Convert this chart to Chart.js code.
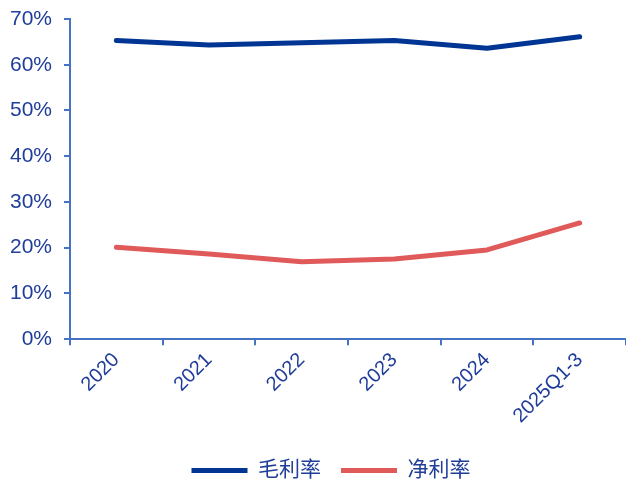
<!DOCTYPE html>
<html>
<head>
<meta charset="utf-8">
<script src="https://cdn.jsdelivr.net/npm/chart.js@4/dist/chart.umd.min.js"></script>
<style>
  body { margin: 0; background: #fff; }
  #wrap { width: 626px; height: 483px; }
</style>
</head>
<body>
<div id="wrap"><canvas id="marginChart" width="626" height="483"></canvas></div>
<script>
// margins by period, in percent
const periods = ['2020', '2021', '2022', '2023', '2024', '2025Q1-3'];
const grossMargin = [65.3, 64.3, 64.8, 65.3, 63.6, 66.1];
const netMargin = [20.1, 18.6, 16.9, 17.5, 19.5, 25.4];
const yTicks = [0, 10, 20, 30, 40, 50, 60, 70];

const axisColor = '#4472C4';
const textColor = '#1F3D99';
const fontFamily = '"Liberation Sans", Arial, "Noto Sans CJK SC", sans-serif';

// nudge the bottom legend a little to the right
const legendShift = {
    id: 'legendShift',
    afterLayout(chart) {
        chart.legend.left += 18;
        chart.legend.right += 18;
    }
};

const ctx = document.getElementById('marginChart').getContext('2d');
const marginChart = new Chart(ctx, {
    type: 'line',
    data: {
        labels: periods,
        datasets: [{
            label: '毛利率',
            data: grossMargin,
            borderColor: '#003594',
            backgroundColor: '#003594',
            borderWidth: 5,
            pointRadius: 0,
            borderCapStyle: 'round',
            borderJoinStyle: 'round',
            tension: 0
        }, {
            label: '净利率',
            data: netMargin,
            borderColor: '#E05A5A',
            backgroundColor: '#E05A5A',
            borderWidth: 5,
            pointRadius: 0,
            borderCapStyle: 'round',
            borderJoinStyle: 'round',
            tension: 0
        }]
    },
    plugins: [legendShift],
    options: {
        responsive: false,
        animation: false,
        layout: { padding: { left: 0, right: 0, top: 19, bottom: -8 } },
        plugins: {
            tooltip: { enabled: false },
            legend: {
                position: 'bottom',
                labels: {
                    color: textColor,
                    font: { family: fontFamily, size: 21 },
                    boxWidth: 56,
                    boxHeight: 5,
                    padding: 20,
                    generateLabels: (chart) => chart.data.datasets.map((ds, i) => ({
                        text: ds.label,
                        fillStyle: ds.borderColor,
                        strokeStyle: ds.borderColor,
                        lineWidth: 0,
                        fontColor: textColor,
                        datasetIndex: i
                    }))
                }
            }
        },
        scales: {
            x: {
                offset: true,
                afterFit: (axis) => { axis.height += 9; },
                grid: {
                    offset: true,
                    drawOnChartArea: false,
                    drawTicks: true,
                    tickLength: 6,
                    color: axisColor,
                    lineWidth: 2
                },
                border: { color: axisColor, width: 2 },
                ticks: {
                    color: textColor,
                    font: { family: fontFamily, size: 20 },
                    minRotation: 45,
                    maxRotation: 45,
                    padding: 3
                }
            },
            y: {
                min: 0,
                max: 70,
                afterBuildTicks: (axis) => { axis.ticks = yTicks.map(v => ({ value: v })); },
                afterFit: (axis) => {
                    axis.width = 70;
                    axis.paddingTop = 0;
                    axis.paddingBottom = 0;
                },
                grid: {
                    drawOnChartArea: false,
                    drawTicks: true,
                    tickLength: 6,
                    color: axisColor,
                    lineWidth: 2
                },
                border: { color: axisColor, width: 2 },
                ticks: {
                    color: textColor,
                    font: { family: fontFamily, size: 21 },
                    padding: 12,
                    callback: (v) => v + '%'
                }
            }
        }
    }
});
</script>
</body>
</html>
